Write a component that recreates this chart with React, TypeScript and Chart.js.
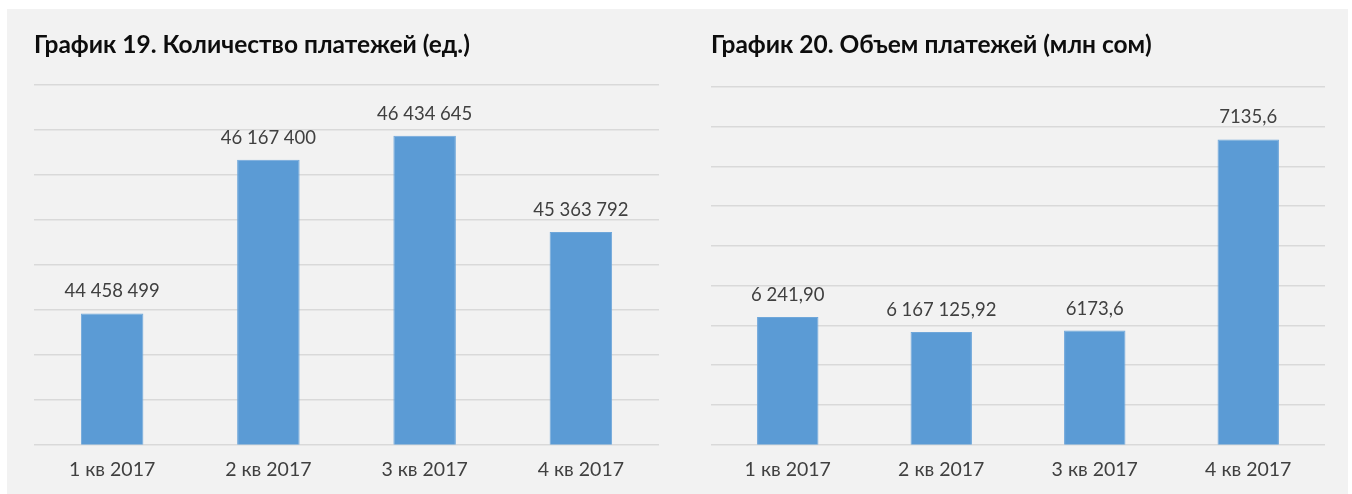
import React, { useEffect, useRef } from "react";
import { Chart, registerables } from "chart.js";

Chart.register(...registerables);

const categories = ["1 кв 2017", "2 кв 2017", "3 кв 2017", "4 кв 2017"];

const countTitle = "График 19. Количество платежей (ед.)";
const countValues = [44458499, 46167400, 46434645, 45363792];
const countLabels = ["44 458 499", "46 167 400", "46 434 645", "45 363 792"];
const countAxis = { min: 43000000, max: 47000000, step: 500000 };

const volumeTitle = "График 20. Объем платежей (млн сом)";
const volumeValues = [6241.9, 6167.1, 6173.6, 7135.6];
const volumeLabels = ["6 241,90", "6 167 125,92", "6173,6", "7135,6"];
const volumeAxis = { min: 5600, max: 7400, step: 200 };

const FONT = "Lato, 'Open Sans', sans-serif";

const valueLabelPlugin = {
  id: "valueLabels",
  afterDatasetsDraw(chart: any, _args: any, opts: any) {
    const ctx = chart.ctx;
    const meta = chart.getDatasetMeta(0);
    ctx.save();
    ctx.font = `${opts.size}px ${FONT}`;
    ctx.fillStyle = opts.color;
    ctx.textAlign = "center";
    ctx.textBaseline = "middle";
    meta.data.forEach((bar: any, i: number) => {
      ctx.fillText(opts.labels[i], bar.x, bar.y - opts.offset);
    });
    ctx.restore();
  },
};

type PanelProps = {
  title: string;
  values: number[];
  labels: string[];
  axis: { min: number; max: number; step: number };
  width: number;
  height: number;
  padLeft: number;
  padRight: number;
  titleBottom: number;
};

function BarPanel(p: PanelProps) {
  const ref = useRef<HTMLCanvasElement | null>(null);
  useEffect(() => {
    if (!ref.current) return;
    const chart = new Chart(ref.current, {
      type: "bar",
      data: {
        labels: categories,
        datasets: [
          {
            data: p.values,
            backgroundColor: "#5b9bd5",
            borderColor: "#6fa7da",
            borderWidth: 1,
            barPercentage: 0.4,
            categoryPercentage: 1,
          },
        ],
      },
      options: {
        animation: false,
        responsive: false,
        maintainAspectRatio: false,
        devicePixelRatio: 1,
        layout: { padding: { left: p.padLeft, right: p.padRight, top: 0, bottom: 0 } },
        plugins: {
          legend: { display: false },
          tooltip: { enabled: false },
          title: {
            display: true,
            text: p.title,
            align: "start",
            color: "#0d0d0d",
            font: { family: FONT, size: 24.5, weight: "bold" },
            padding: { top: 21, bottom: p.titleBottom },
          },
          valueLabels: { labels: p.labels, size: 18.5, color: "#404040", offset: 22 },
        } as any,
        scales: {
          x: {
            grid: { display: false, drawTicks: false },
            border: { display: false },
            ticks: {
              color: "#404040",
              font: { family: FONT, size: 19.5 },
              padding: 13,
            },
          },
          y: {
            min: p.axis.min,
            max: p.axis.max,
            ticks: { display: false, stepSize: p.axis.step },
            border: { display: false },
            grid: { color: "#d9d9d9", lineWidth: 1.5, drawTicks: false },
          },
        },
      },
      plugins: [valueLabelPlugin],
    });
    return () => chart.destroy();
  }, []);
  return <canvas ref={ref} width={p.width} height={p.height} style={{ display: "block" }} />;
}

export default function App() {
  return (
    <div
      style={{
        position: "absolute",
        left: 7,
        top: 9,
        width: 1341,
        height: 485,
        background: "#f2f2f2",
        display: "flex",
      }}
    >
      <BarPanel
        title={countTitle}
        values={countValues}
        labels={countLabels}
        axis={countAxis}
        width={670}
        height={485}
        padLeft={27}
        padRight={18}
        titleBottom={25.5}
      />
      <BarPanel
        title={volumeTitle}
        values={volumeValues}
        labels={volumeLabels}
        axis={volumeAxis}
        width={671}
        height={485}
        padLeft={34}
        padRight={23}
        titleBottom={27.5}
      />
    </div>
  );
}
